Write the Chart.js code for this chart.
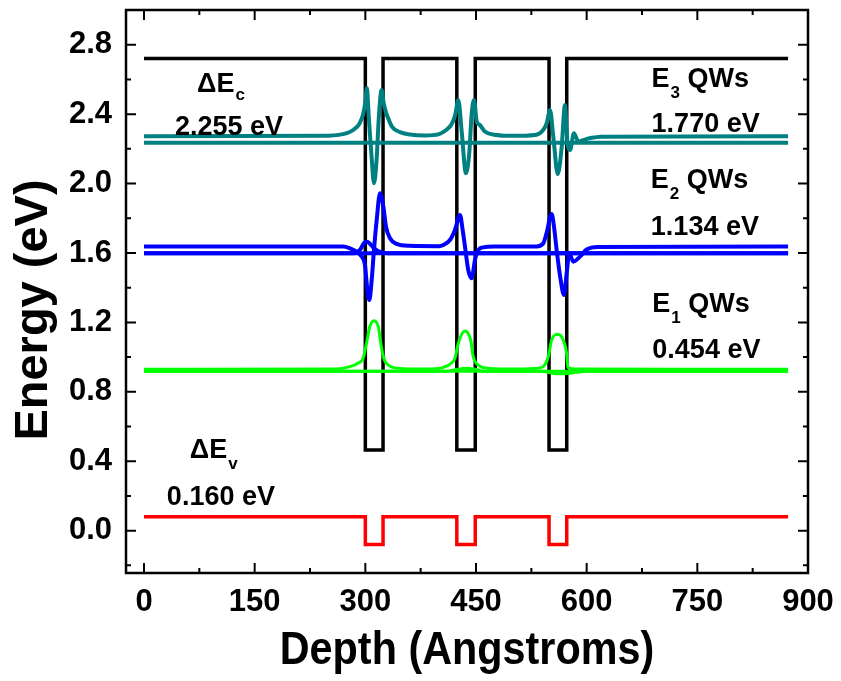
<!DOCTYPE html>
<html>
<head>
<meta charset="utf-8">
<script src="https://cdn.jsdelivr.net/npm/chart.js@4.4.0/dist/chart.umd.min.js"></script>
<style>
  body { margin: 0; background: #fff; }
  #wrap { width: 841px; height: 681px; }
</style>
</head>
<body>
<div id="wrap"><canvas id="bandChart" width="841" height="681"></canvas></div>
<script>
// band edges (eV) and well positions (Angstroms)
const cbBottom = 0.465;
const deltaEc = 2.255;
const vbTop = 0.08;
const deltaEv = 0.160;
const wellEdges = [0, 300, 300, 324, 324, 424, 424, 449, 449, 549, 549, 573, 573, 873];
const inWell = [0, 0, 1, 1, 0, 0, 1, 1, 0, 0, 1, 1, 0, 0];

// confined levels above the well bottom: E1, E2, E3
const levelEnergies = [0.454, 1.134, 1.770];
const levelColors = ["#00ff00", "#0000ff", "#008080"];

// wavefunctions, offset onto each level
const e1WaveX = [0, 260, 279, 290, 297, 301.6, 306, 312, 317.5, 321, 324.3, 331, 347, 370, 400, 405.7, 415, 421.5, 426, 435, 442.7, 446.3, 453, 469, 500, 530, 541, 548, 552.5, 560.6, 568.2, 572.8, 574.5, 585, 873];
const e1WaveY = [0.930, 0.932, 0.945, 0.965, 0.993, 1.08, 1.175, 1.21, 1.175, 1.08, 1.002, 0.954, 0.935, 0.931, 0.935, 0.941, 0.960, 0.993, 1.08, 1.15, 1.099, 1.002, 0.954, 0.935, 0.931, 0.934, 0.945, 1.002, 1.099, 1.131, 1.099, 1.022, 0.940, 0.931, 0.930];
const e1SideX = [0, 410, 425, 437, 450, 460, 540, 555, 570, 585, 600, 873];
const e1SideY = [0.919, 0.919, 0.930, 0.936, 0.929, 0.919, 0.919, 0.906, 0.904, 0.912, 0.919, 0.919];

const e2WaveX = [0, 270, 279, 288, 295, 299.5, 302.7, 305.4, 308.6, 311.7, 315.4, 319.9, 324.4, 328, 333.4, 342.5, 360, 400, 405.7, 414.7, 421.5, 428.3, 431.9, 435.1, 439.5, 444.2, 448.6, 453.1, 460, 475, 532, 541.2, 545.6, 552.5, 555.7, 559.3, 564.1, 569.3, 572.9, 576.5, 581.9, 591, 600, 615, 873];
const e2WaveY = [1.638, 1.637, 1.627, 1.608, 1.579, 1.531, 1.387, 1.329, 1.444, 1.617, 1.790, 1.944, 1.867, 1.752, 1.685, 1.652, 1.641, 1.639, 1.646, 1.675, 1.733, 1.819, 1.733, 1.636, 1.502, 1.454, 1.560, 1.617, 1.632, 1.637, 1.638, 1.656, 1.713, 1.825, 1.752, 1.617, 1.463, 1.358, 1.483, 1.598, 1.550, 1.579, 1.620, 1.635, 1.638];
const e2SideX = [0, 285, 293, 298, 302, 306, 311, 318, 330, 873];
const e2SideY = [1.599, 1.599, 1.620, 1.655, 1.665, 1.655, 1.630, 1.610, 1.599, 1.599];

const e3WaveX = [0, 250, 275, 284, 292, 297, 300, 302, 305, 308.6, 311.7, 315, 318.5, 322, 325, 328, 331, 336, 347, 360, 380, 400, 410, 415, 419, 422, 426, 430.6, 436.4, 441, 444, 447.3, 451, 455, 462, 478, 500, 530, 541, 546, 550.3, 555, 560.8, 566, 570.6, 573.8, 577.5, 582.8, 588.7, 595, 605, 620, 873];
const e3WaveY = [2.273, 2.276, 2.290, 2.310, 2.345, 2.400, 2.470, 2.549, 2.360, 2.146, 2.002, 2.120, 2.395, 2.539, 2.460, 2.410, 2.376, 2.328, 2.296, 2.283, 2.277, 2.285, 2.310, 2.330, 2.360, 2.400, 2.482, 2.300, 2.059, 2.184, 2.395, 2.482, 2.357, 2.338, 2.300, 2.280, 2.275, 2.280, 2.309, 2.350, 2.424, 2.261, 2.054, 2.203, 2.453, 2.241, 2.194, 2.290, 2.241, 2.250, 2.262, 2.270, 2.273];

// axis ticks
const xTicks = [0, 150, 300, 450, 600, 750, 900];
const xMinor = [75, 225, 375, 525, 675, 825];
const yTicks = [0, 0.4, 0.8, 1.2, 1.6, 2.0, 2.4, 2.8];
const yMinor = [-0.2, 0.2, 0.6, 1.0, 1.4, 1.8, 2.2, 2.6];

// annotations: main text, subscript, trailing text, anchor in data units
const notes = [
  { text: "\u0394E", sub: "c", rest: "", x: 72, y: 2.530, drop: 8 },
  { text: "2.255 eV", sub: "", rest: "", x: 42, y: 2.280 },
  { text: "E", sub: "3", rest: " QWs", x: 688, y: 2.559, drop: 11 },
  { text: "1.770 eV", sub: "", rest: "", x: 688, y: 2.299 },
  { text: "E", sub: "2", rest: " QWs", x: 687, y: 1.973, drop: 11 },
  { text: "1.134 eV", sub: "", rest: "", x: 687, y: 1.704 },
  { text: "E", sub: "1", rest: " QWs", x: 689, y: 1.262, drop: 11 },
  { text: "0.454 eV", sub: "", rest: "", x: 689, y: 0.993 },
  { text: "\u0394E", sub: "v", rest: "", x: 62, y: 0.417, drop: 11 },
  { text: "0.160 eV", sub: "", rest: "", x: 31, y: 0.148 }
];

const FONT = "'Liberation Sans', Arial, sans-serif";

function zip(xs, ys) {
  return xs.map((x, i) => ({ x: x, y: ys[i] }));
}

const cbTop = cbBottom + deltaEc;
const vbBottom = vbTop - deltaEv;
const cbProfile = inWell.map(w => (w ? cbBottom : cbTop));
const vbProfile = inWell.map(w => (w ? vbBottom : vbTop));

function curve(data, color, width, smooth) {
  return {
    data: data,
    showLine: true,
    borderColor: color,
    borderWidth: width,
    pointRadius: 0,
    fill: false,
    tension: 0,
    cubicInterpolationMode: smooth ? "monotone" : "default"
  };
}

const datasets = [];
const waves = [[e1WaveX, e1WaveY, e1SideX, e1SideY, 3], [e2WaveX, e2WaveY, e2SideX, e2SideY, 4], [e3WaveX, e3WaveY, null, null, 4]];
waves.forEach((w, i) => {
  const lvl = cbBottom + levelEnergies[i];
  datasets.push(curve(zip([0, 873], [lvl, lvl]), levelColors[i], w[4], false));
  if (w[2]) datasets.push(curve(zip(w[2], w[3]), levelColors[i], w[4], true));
  datasets.push(curve(zip(w[0], w[1]), levelColors[i], w[4], true));
});
datasets.push(curve(zip(wellEdges, vbProfile), "#ff0000", 3.5, false));
datasets.push(curve(zip(wellEdges, cbProfile), "#000000", 3.5, false));
// black profile underneath everything else
datasets.forEach((d, i) => { d.order = datasets.length - i; });
datasets[datasets.length - 1].order = 100;

function drawNote(ctx, n, px, py) {
  ctx.font = "bold 27px " + FONT;
  ctx.fillText(n.text, px, py);
  let cx = px + ctx.measureText(n.text).width;
  if (n.sub) {
    ctx.font = "bold 17px " + FONT;
    ctx.fillText(n.sub, cx + 1, py + n.drop);
    cx += ctx.measureText(n.sub).width + 1;
  }
  if (n.rest) {
    ctx.font = "bold 27px " + FONT;
    ctx.fillText(n.rest, cx, py);
  }
}

const framePlugin = {
  id: "frame",
  afterDraw(chart) {
    const { ctx, chartArea: a, scales } = chart;
    const x = scales.x, y = scales.y;
    ctx.save();
    ctx.strokeStyle = "#000";
    ctx.lineWidth = 2.5;
    ctx.strokeRect(a.left, a.top, a.right - a.left, a.bottom - a.top);

    ctx.lineWidth = 2;
    ctx.beginPath();
    const tickX = (v, len) => {
      const p = x.getPixelForValue(v);
      ctx.moveTo(p, a.bottom); ctx.lineTo(p, a.bottom - len);
      ctx.moveTo(p, a.top); ctx.lineTo(p, a.top + len);
    };
    const tickY = (v, len) => {
      const p = y.getPixelForValue(v);
      ctx.moveTo(a.left, p); ctx.lineTo(a.left + len, p);
      ctx.moveTo(a.right, p); ctx.lineTo(a.right - len, p);
    };
    xTicks.forEach(v => tickX(v, 10));
    xMinor.forEach(v => tickX(v, 5));
    yTicks.forEach(v => tickY(v, 10));
    yMinor.forEach(v => tickY(v, 5));
    ctx.stroke();

    // text inside the plot
    ctx.fillStyle = "#000";
    ctx.textAlign = "left";
    ctx.textBaseline = "alphabetic";
    notes.forEach(n => drawNote(ctx, n, x.getPixelForValue(n.x), y.getPixelForValue(n.y)));

    // axis titles
    ctx.textAlign = "center";
    ctx.font = "bold 47px " + FONT;
    ctx.save();
    ctx.translate((a.left + a.right) / 2, 664);
    ctx.scale(0.88, 1);
    ctx.fillText("Depth (Angstroms)", 0, 0);
    ctx.restore();

    ctx.save();
    ctx.translate(47, 310);
    ctx.rotate(-Math.PI / 2);
    ctx.fillText("Energy (eV)", 0, 0);
    ctx.restore();
    ctx.restore();
  }
};

new Chart(document.getElementById("bandChart"), {
  type: "scatter",
  data: { datasets: datasets },
  options: {
    responsive: false,
    animation: false,
    layout: { padding: { left: 0, right: 33, top: 10, bottom: 0 } },
    plugins: { legend: { display: false }, tooltip: { enabled: false } },
    scales: {
      x: {
        type: "linear",
        min: -24.4,
        max: 900,
        grid: { display: false, drawTicks: false },
        border: { display: false },
        afterBuildTicks: s => { s.ticks = xTicks.map(v => ({ value: v })); },
        afterFit: s => { s.height = 108; s.paddingLeft = 0; s.paddingRight = 0; },
        ticks: {
          color: "#000",
          padding: 11,
          maxRotation: 0,
          font: { family: FONT, weight: "bold", size: 31 },
          callback: v => String(v)
        }
      },
      y: {
        type: "linear",
        min: -0.244,
        max: 3.0,
        grid: { display: false, drawTicks: false },
        border: { display: false },
        afterBuildTicks: s => { s.ticks = yTicks.map(v => ({ value: v })); },
        afterFit: s => { s.width = 126; s.paddingTop = 0; s.paddingBottom = 0; },
        ticks: {
          color: "#000",
          padding: 14,
          font: { family: FONT, weight: "bold", size: 31 },
          callback: v => Number(v).toFixed(1)
        }
      }
    }
  },
  plugins: [framePlugin]
});
</script>
</body>
</html>
